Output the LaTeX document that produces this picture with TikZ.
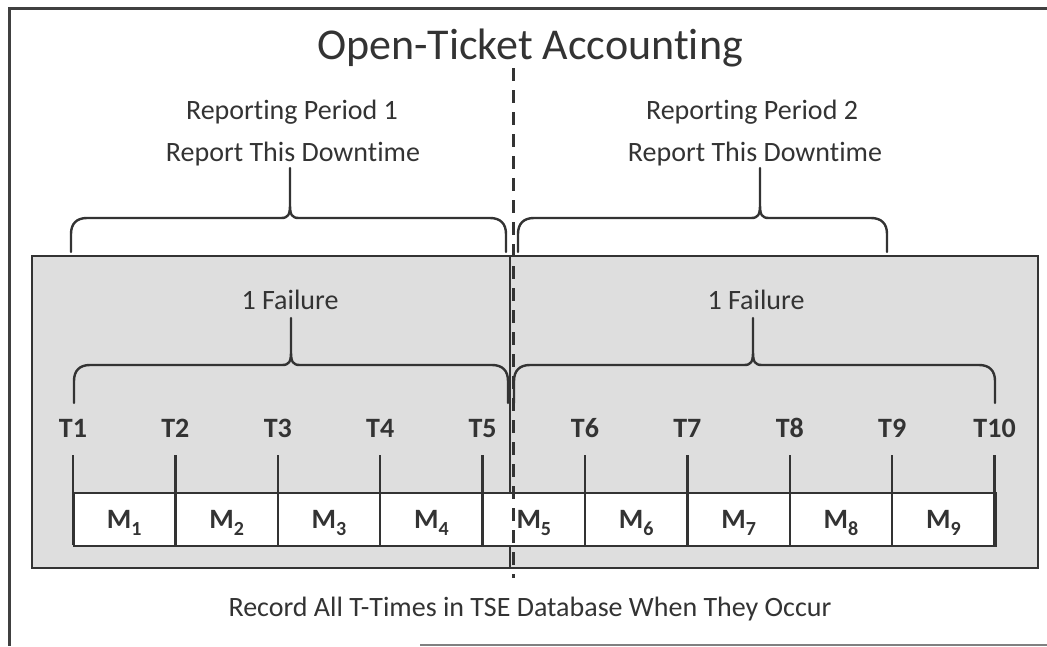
\documentclass[tikz,border=0pt]{standalone}
\usepackage{fontspec}
\setmainfont{Carlito}[Ligatures={NoCommon}]
\usetikzlibrary{calc}

% Horizontal curly brace: #1 left x, #2 tip x, #3 right x,
% #4 y of the ends, #5 y of the bar, #6 y of the tip, #7 corner radius
\newcommand\curlybrace[7]{%
  \draw[bracestroke]
    (#1,#4) -- (#1,#5+#7)
    .. controls (#1,#5+0.35*#7) and (#1+0.35*#7,#5) .. (#1+#7,#5)
    -- (#2-9,#5) .. controls (#2-2,#5) and (#2,#5-3) .. (#2,#5-13)
    -- (#2,#6) -- (#2,#5-13)
    .. controls (#2,#5-3) and (#2+2,#5) .. (#2+9,#5)
    -- (#3-#7,#5)
    .. controls (#3-0.35*#7,#5) and (#3,#5+0.35*#7) .. (#3,#5+#7)
    -- (#3,#4);}

\begin{document}
\begin{tikzpicture}[x=1pt,y=-1pt,
  inkline/.style={draw=black!80, line width=2.4pt},
  bracestroke/.style={draw=black!80, line width=2.4pt, line join=round, line cap=round},
  plain/.style={text=black!80, anchor=base, inner sep=0pt,
    font=\fontsize{28}{32}\selectfont},
  boldlbl/.style={plain, font=\fontsize{28}{32}\selectfont\bfseries},
  cutline/.style={draw=black!80, line width=3pt, dash pattern=on 13pt off 9pt}
]
\useasboundingbox (0,0) rectangle (1047,646);

% outer frame
\draw[draw=black!75, line width=3pt] (1047,8) -- (9,8) -- (9,646);
\draw[draw=black!50, line width=2pt] (420,645) -- (1047,645);

% title
\node[plain, font=\fontsize{44}{50}\selectfont] (title) at (530,59) {Open-Ticket Accounting};

% reporting period labels
\node[plain] (rp1) at (292,119) {Reporting Period 1};
\node[plain] (rd1) at (293,161) {Report This Downtime};
\node[plain] (rp2) at (752,119) {Reporting Period 2};
\node[plain] (rd2) at (755,161) {Report This Downtime};

% upper braces
\curlybrace{71}{290}{506}{252}{218}{168}{16}
\curlybrace{518}{760}{887}{252}{218}{168}{16}

% shaded panel
\node[inkline, fill=black!13, minimum width=1006pt, minimum height=312pt,
      inner sep=0pt, anchor=north west] (panel) at (31,255) {};
\draw[draw=black!80, line width=2pt] (510,255) -- (510,567);

% failure labels and lower braces
\node[plain] (f1) at (290,309) {1 Failure};
\node[plain] (f2) at (756,309) {1 Failure};
\curlybrace{74}{291}{508}{403}{365}{318}{16}
\curlybrace{514}{753}{995}{403}{365}{318}{16}

% measurement row
\node[inkline, fill=white, minimum width=922pt, minimum height=53pt,
      inner sep=0pt, anchor=north west] (row) at (73,492) {};

% ticks and T labels
\foreach \i in {1,...,10} {
  \pgfmathsetmacro\tx{73+(\i-1)*102.4}
  \node[boldlbl] (t\i) at (\tx,437) {T\i};
  \draw[inkline] (\tx,455) -- (\tx,545);
}

% M labels
\foreach \i in {1,...,9} {
  \pgfmathsetmacro\mx{73+(\i-0.5)*102.4}
  \node[boldlbl] (m\i) at (\mx,528)
    {M\raisebox{-7pt}{\fontsize{20}{20}\selectfont\bfseries \i}};
}

% period boundary
\coordinate (cuttop) at (513,68);
\coordinate (cutbot) at (513,578);
\draw[cutline] (cuttop) -- (cutbot);

% footer
\node[plain] (foot) at (530,616) {Record All T-Times in TSE Database When They Occur};
\end{tikzpicture}
\end{document}
